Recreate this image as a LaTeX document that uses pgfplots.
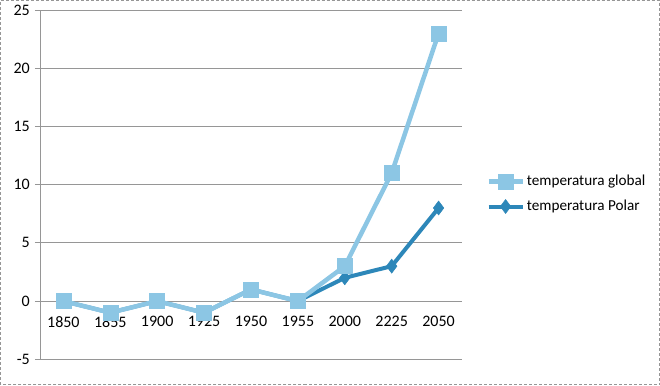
\documentclass[border=0pt]{standalone}
\usepackage{pgfplots}
\pgfplotsset{compat=1.18}
\usepackage{fontspec}
\setmainfont{Carlito}
\definecolor{cglob}{RGB}{140,198,228}
\definecolor{cpol}{RGB}{45,135,185}
\definecolor{cgrid}{RGB}{150,150,150}
\begin{document}
\begin{tikzpicture}[x=1pt,y=1pt]
\fontsize{14.7}{17}\selectfont
\draw[cgrid, densely dashed, line width=0.8pt] (0.5,0.5) rectangle (659.5,384.5);
\begin{axis}[at={(40pt,26pt)}, anchor=south west, scale only axis,
  width=422pt, height=349pt,
  xmin=-0.5, xmax=8.5, ymin=-5, ymax=25,
  ytick={-5,0,...,25},
  xtick={0,...,8},
  xticklabels={1850,1855,1900,1925,1950,1955,2000,2225,2050},
  minor xtick={-0.5,0.5,...,8.5},
  axis x line*=middle, axis y line*=left,
  axis line style={cgrid, line width=0.8pt},
  tick align=outside,
  major tick length=5pt, minor tick length=5pt,
  xtick style={draw=none},
  minor x tick style={cgrid, line width=0.8pt},
  ytick style={cgrid, line width=0.8pt},
  ymajorgrids, grid style={cgrid, line width=0.8pt},
  ticklabel style={font=\fontsize{16}{19}\selectfont, text=black},
  /pgf/number format/assume math mode=true,
  xticklabel style={yshift=-5pt},
  yticklabel style={xshift=0pt},
  legend style={at={(1.05,0.473)}, anchor=west, draw=none, fill=none,
    font=\fontsize{15.2}{18}\selectfont, row sep=8pt},
  legend cell align=left,
  reverse legend,
  legend image code/.code={\draw[#1, mark repeat=2, mark phase=2] plot coordinates {(0pt,0pt) (17pt,0pt) (34pt,0pt)};},
]
\addplot[cpol, line width=4pt, mark=diamond*, mark size=7pt, mark options={fill=cpol, draw=cpol, line width=0.5pt}]
  coordinates {(0,0) (1,-1) (2,0) (3,-1) (4,1) (5,0) (6,2) (7,3) (8,8)};
\addlegendentry{temperatura Polar}
\addplot[cglob, line width=4.5pt, mark=square*, mark size=7.5pt, mark options={fill=cglob, draw=cglob, line width=0.5pt}]
  coordinates {(0,0) (1,-1) (2,0) (3,-1) (4,1) (5,0) (6,3) (7,11) (8,23)};
\addlegendentry{temperatura global}
\end{axis}
\end{tikzpicture}
\end{document}
